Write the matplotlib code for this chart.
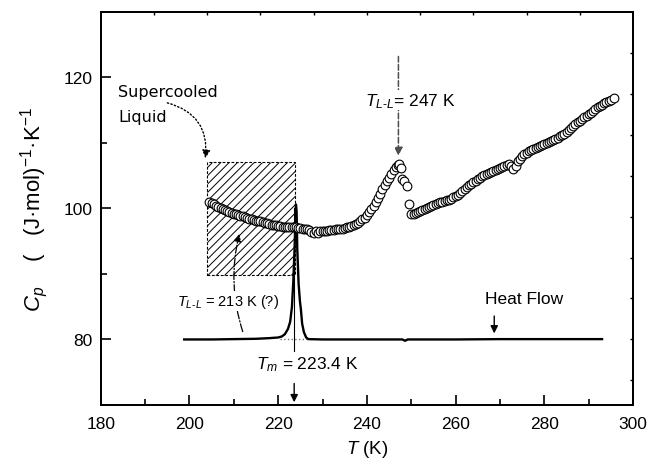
import matplotlib
matplotlib.use("Agg")
import matplotlib.pyplot as plt
from matplotlib.patches import Rectangle

plt.rcParams['font.family'] = ['Liberation Sans', 'DejaVu Sans']
plt.rcParams['mathtext.fontset'] = 'custom'
plt.rcParams['mathtext.rm'] = 'Liberation Sans'
plt.rcParams['mathtext.it'] = 'Liberation Sans:italic'
plt.rcParams['hatch.linewidth'] = 0.7

# ---- data: Cp (open circles) ----
cp_T = [204.5, 205.0, 205.5, 206.0, 206.5, 207.0, 207.5, 208.0, 208.5, 209.0, 209.5,
        210.0, 210.5, 211.0, 211.5, 212.0, 212.5, 213.0, 213.5, 214.0, 214.5, 215.0,
        215.5, 216.0, 216.5, 217.0, 217.5, 218.0, 218.5, 219.0, 219.5, 220.0, 220.5,
        221.0, 221.5, 222.0, 222.5, 223.0, 223.5, 224.0, 224.5, 225.0, 225.5, 226.0,
        226.5, 227.0, 227.5, 228.0, 228.5, 229.0, 229.5, 230.0, 230.5, 231.0, 231.5,
        232.0, 232.5, 233.0, 233.5, 234.0, 234.5, 235.0, 235.5, 236.0, 236.5, 237.0,
        237.5, 238.0, 238.5, 239.0, 239.5, 240.0, 240.5, 241.0, 241.5, 242.0, 242.5,
        243.0, 243.5, 244.0, 244.5, 245.0, 245.5, 246.0, 246.5, 247.0, 247.3,
        247.6, 247.8, 248.3, 249.0, 249.4, 250.0, 250.5,
        251.0, 251.5, 252.0, 252.5, 253.0, 253.5, 254.0, 254.5, 255.0, 255.5, 256.0,
        256.5, 257.0, 257.5, 258.0, 258.5, 259.0, 259.5, 260.0, 260.5, 261.0, 261.5,
        262.0, 262.5, 263.0, 263.5, 264.0, 264.5, 265.0, 265.5, 266.0, 266.5, 267.0,
        267.5, 268.0, 268.5, 269.0, 269.5, 270.0, 270.5, 271.0, 271.5, 272.0, 272.5,
        273.0, 273.5, 274.0, 274.5, 275.0, 275.5, 276.0, 276.5, 277.0, 277.5, 278.0,
        278.5, 279.0, 279.5, 280.0, 280.5, 281.0, 281.5, 282.0, 282.5, 283.0, 283.5,
        284.0, 284.5, 285.0, 285.5, 286.0, 286.5, 287.0, 287.5, 288.0, 288.5, 289.0,
        289.5, 290.0, 290.5, 291.0, 291.5, 292.0, 292.5, 293.0, 293.5, 294.0, 294.5,
        295.0, 295.6]
cp_val = [100.9, 100.8, 100.6, 100.4, 100.2, 100.0, 99.9, 99.7, 99.6, 99.4, 99.3,
          99.2, 99.1, 99.0, 98.9, 98.8, 98.7, 98.6, 98.4, 98.3, 98.2, 98.1,
          98.1, 98.0, 97.9, 97.8, 97.7, 97.6, 97.5, 97.4, 97.4, 97.3, 97.3,
          97.2, 97.2, 97.2, 97.1, 97.1, 97.1, 97.1, 97.0, 97.0, 96.9, 96.9,
          96.8, 96.7, 96.4, 96.3, 96.5, 96.2, 96.6, 96.5, 96.6, 96.6, 96.7,
          96.7, 96.7, 96.8, 96.8, 96.9, 96.9, 97.0, 97.1, 97.2, 97.3, 97.4,
          97.6, 97.8, 98.0, 98.3, 98.6, 99.0, 99.4, 99.9, 100.4, 101.0, 101.6,
          102.2, 102.9, 103.5, 104.1, 104.7, 105.3, 105.8, 106.3, 106.6, 106.7,
          106.1, 104.5, 104.1, 103.4, 100.6, 99.1, 99.2,
          99.3, 99.5, 99.6, 99.7, 99.9, 100.0, 100.2, 100.3, 100.5, 100.6, 100.8,
          100.9, 101.0, 101.1, 101.2, 101.3, 101.5, 101.7, 101.9, 102.1, 102.4, 102.6,
          102.9, 103.2, 103.5, 103.7, 104.0, 104.2, 104.5, 104.7, 105.0, 105.1, 105.3,
          105.4, 105.6, 105.7, 105.9, 106.0, 106.2, 106.3, 106.5, 106.6, 106.8, 106.5,
          106.0, 106.4, 107.2, 107.6, 108.0, 108.3, 108.5, 108.7, 108.9, 109.0, 109.2,
          109.3, 109.5, 109.6, 109.8, 109.9, 110.1, 110.2, 110.4, 110.6, 110.8, 111.0,
          111.2, 111.4, 111.7, 112.0, 112.2, 112.5, 112.8, 113.1, 113.4, 113.6, 113.9,
          114.1, 114.4, 114.6, 114.9, 115.1, 115.4, 115.6, 115.8, 116.0, 116.2, 116.4,
          116.6, 116.9]

# ---- data: heat flow trace ----
hf_T = [198.8, 205.0, 210.0, 215.0, 218.0, 220.0, 220.8, 221.5, 222.2, 222.7, 223.1,
        223.4, 223.7, 223.9, 224.0, 224.15, 224.3, 224.6, 224.9, 225.1, 225.4, 225.8,
        226.3, 226.8, 230.0, 240.0, 248.0, 248.6, 249.2, 260.0, 270.0, 280.0, 293.0]
hf_val = [80.0, 80.0, 80.05, 80.1, 80.2, 80.3, 80.45, 80.8, 81.6, 82.7, 85.0,
          88.8, 94.0, 98.5, 100.6, 99.5, 93.8, 88.5, 85.8, 84.7, 82.4, 81.1,
          80.3, 80.05, 80.0, 80.0, 80.0, 79.8, 80.0, 80.0, 80.05, 80.05, 80.05]

box_T = [204.0, 223.8]
box_cp = [89.9, 107.0]

T_LL1 = 247.1
T_m = 223.6
T_hf = 268.7

fig = plt.figure(figsize=(6.5, 4.64), dpi=100)
ax = fig.add_axes([0.155, 0.125, 0.819, 0.8476])

# hatched supercooled box
ax.add_patch(Rectangle((box_T[0], box_cp[0]), box_T[1] - box_T[0], box_cp[1] - box_cp[0],
                       facecolor='white', edgecolor='black', hatch='////', lw=0.8,
                       linestyle=(0, (2.5, 1.5)), zorder=1))

# baseline extrapolation and Tm marker line
ax.plot([220.5, 227.0], [80.0, 80.0], color='0.45', ls=':', lw=1.0, zorder=2)
ax.plot([T_m, T_m], [100.0, 78.3], color='black', lw=0.8, zorder=2)

# heat flow
ax.plot(hf_T, hf_val, color='black', lw=1.7, zorder=3)

# Cp circles
ax.plot(cp_T, cp_val, 'o', ms=6.3, mfc='white', mec='black', mew=0.8, zorder=4)

ax.set_xlim(180, 300)
ax.set_ylim(70, 130)
ax.set_xticks([180, 200, 220, 240, 260, 280, 300])
ax.set_xticks([190, 210, 230, 250, 270, 290], minor=True)
ax.set_yticks([80, 100, 120])
ax.set_yticks([90, 110], minor=True)
for s in ax.spines.values():
    s.set_linewidth(1.4)
ax.tick_params(axis='both', which='major', direction='in', labelsize=12.5,
               width=1.2, length=7)
ax.tick_params(axis='both', which='minor', direction='in', width=1.2, length=4.5)
ax.tick_params(axis='x', which='major', pad=8)
ax.tick_params(axis='y', which='major', pad=6)

# secondary (heat-flow) frame ticks on top/right
axt = ax.twiny()
axt.set_xlim(0, 10)
axt.set_xticks(range(1, 10))
axt.tick_params(axis='x', direction='in', length=2.5, width=1.0, labeltop=False)
axr = ax.twinx()
axr.set_ylim(-0.6, 9.0)
axr.set_yticks(range(0, 9))
axr.tick_params(axis='y', direction='in', length=2.5, width=1.0, labelright=False)
for a in (axt, axr):
    for s in a.spines.values():
        s.set_linewidth(1.4)

ax.set_xlabel('$T$ (K)', fontsize=13.5, labelpad=5)
ax.set_ylabel('$C_p$    (   (J·mol)$^{-1}$·K$^{-1}$', fontsize=16, labelpad=10)

# annotations
ax.text(183.9, 117.85, 'Supercooled', fontsize=11.5, family='DejaVu Sans', va='center', ha='left')
ax.text(183.9, 114.05, 'Liquid', fontsize=11.5, family='DejaVu Sans', va='center', ha='left')
ax.annotate('', xy=(203.5, 107.2), xytext=(194.4, 116.2),
            arrowprops=dict(arrowstyle='-|>', lw=1.0, ls=':', color='black',
                            connectionstyle='arc3,rad=-0.45', mutation_scale=12))

ax.annotate('', xy=(211.4, 96.5), xytext=(212.2, 80.8),
            arrowprops=dict(arrowstyle='-|>', lw=0.9, ls='-.', color='black',
                            connectionstyle='arc3,rad=-0.15', mutation_scale=11))
ax.text(208.7, 85.9, '$T_{L\u2010L}$ = 213 K (?)', fontsize=10.5, ha='center', va='center',
        zorder=5, bbox=dict(facecolor='white', edgecolor='none', pad=0.5))

ax.annotate('', xy=(T_LL1, 107.6), xytext=(T_LL1, 123.6),
            arrowprops=dict(arrowstyle='-|>', lw=1.1, ls='--', color='0.3',
                            mutation_scale=12), zorder=2)
ax.text(249.9, 116.5, '$T_{L\u2010L}$= 247 K', fontsize=12.5, ha='center', va='center',
        zorder=5, bbox=dict(facecolor='white', edgecolor='none', pad=0.5))

ax.annotate('', xy=(T_m, 70.0), xytext=(T_m, 73.7),
            arrowprops=dict(arrowstyle='-|>', lw=1.0, color='black', mutation_scale=11))
ax.text(226.6, 76.3, '$T_m$ = 223.4 K', fontsize=12.5, ha='center', va='center')

ax.annotate('', xy=(T_hf, 80.5), xytext=(T_hf, 84.0),
            arrowprops=dict(arrowstyle='-|>', lw=1.0, color='black', mutation_scale=11))
ax.text(275.4, 86.3, 'Heat Flow', fontsize=12.5, ha='center', va='center')

fig.savefig('out.png', dpi=100)
